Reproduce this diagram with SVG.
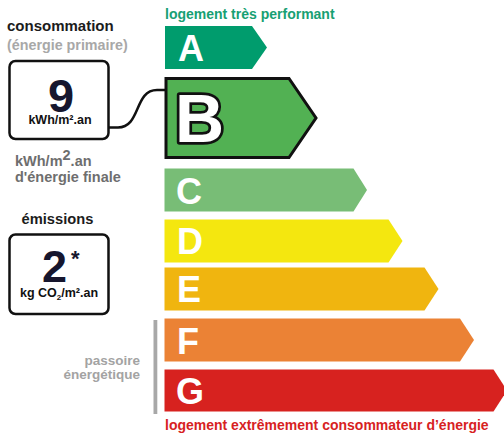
<svg xmlns="http://www.w3.org/2000/svg" width="504" height="437" viewBox="0 0 504 437">
<style>
text{font-family:"Liberation Sans",Arial,sans-serif;font-weight:bold}
.lt{fill:#fff;font-size:36px}
.box{fill:#fff;stroke:#111;stroke-width:2.5}
.num{fill:#16162e}
.conn{fill:none;stroke:#111;stroke-width:2.5}
</style>
<rect width="504" height="437" fill="#fff"/>
<text x="165" y="18.5" font-size="14" fill="#17a073">logement très performant</text>
<text x="165" y="429.5" font-size="14" fill="#d7221f">logement extrêmement consommateur d’énergie</text>

<g id="label-consommation">
<text x="7" y="31" font-size="15" fill="#1c1c1c">consommation</text>
<text x="7" y="50" font-size="14.3" fill="#a8a8a8">(énergie primaire)</text>
</g>
<g id="box-consommation">
<rect class="box" x="9.5" y="61" width="99" height="78" rx="6"/>
<text class="num" x="61" y="111.5" font-size="47" text-anchor="middle">9</text>
<text x="60" y="124" font-size="12.5" fill="#111" text-anchor="middle">kWh/m².an</text>
</g>
<g id="label-finale" fill="#6e6e6e">
<text x="15" y="166" font-size="14.5" fill="#6e6e6e">kWh/m<tspan dy="-6">2</tspan><tspan dy="6">.an</tspan></text>
<text x="15" y="182" font-size="14.5" fill="#6e6e6e">d'énergie finale</text>
</g>

<g id="label-emissions">
<text x="21.5" y="224" font-size="14.7" fill="#1c1c1c">émissions</text>
</g>
<g id="box-emissions">
<rect class="box" x="9.5" y="234.5" width="99" height="79.5" rx="6"/>
<text class="num" x="42" y="281.5" font-size="45">2</text>
<text class="num" x="71" y="266" font-size="22">*</text>
<text x="20" y="297" font-size="12.5" fill="#111">kg CO<tspan font-size="8" dy="3">2</tspan><tspan dy="-3">/m².an</tspan></text>
</g>

<g id="label-passoire" fill="#a3a3a3">
<text x="140" y="365" font-size="13.5" fill="#a3a3a3" text-anchor="end">passoire</text>
<text x="140" y="378.5" font-size="13.5" fill="#a3a3a3" text-anchor="end">énergétique</text>
<rect x="153.5" y="320" width="3.8" height="94" fill="#a8a8a8"/>
</g>

<g id="connectors">
<path class="conn" d="M109,127.5 L118,127.5 C141,127.5 134,90 157,90 L167,90"/>
</g>

<g id="class-A">
<path d="M165,26 H252 L267,47.5 L252,69 H165 Z" fill="#009c6d"/>
<text class="lt" x="178" y="61">A</text>
</g>
<g id="class-B">
<path d="M166,78.5 H289 L316,118 L289,157.5 H166 Z" fill="#52b153" stroke="#111" stroke-width="3" stroke-linejoin="miter"/>
<text x="175" y="142" font-size="68" fill="#fff" stroke="#111" stroke-width="5.5" paint-order="stroke" stroke-linejoin="round">B</text>
</g>
<g id="class-C">
<path d="M164.5,168.5 H353.5 L367,190 L353.5,211.5 H164.5 Z" fill="#78bd76"/>
<text class="lt" x="176" y="203.5">C</text>
</g>
<g id="class-D">
<path d="M164.5,219.5 H388.5 L402.5,241 L388.5,262.5 H164.5 Z" fill="#f4e70f"/>
<text class="lt" x="177" y="254">D</text>
</g>
<g id="class-E">
<path d="M164.5,267.5 H424.5 L438.5,289 L424.5,310.5 H164.5 Z" fill="#f0b50f"/>
<text class="lt" x="177" y="302">E</text>
</g>
<g id="class-F">
<path d="M164.5,318.5 H460 L474,340 L460,361.5 H164.5 Z" fill="#eb8235"/>
<text class="lt" x="177" y="354">F</text>
</g>
<g id="class-G">
<path d="M164.5,369.5 H493.5 L507,390.5 L493.5,411.5 H164.5 Z" fill="#d7221f"/>
<text class="lt" x="176" y="403.5">G</text>
</g>
</svg>
